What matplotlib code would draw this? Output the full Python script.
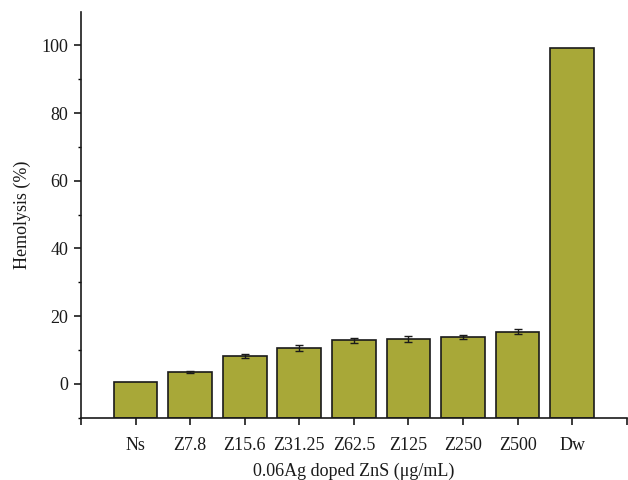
import numpy as np
import matplotlib.pyplot as plt

categories = ["Ns", "Z7.8", "Z15.6", "Z31.25", "Z62.5", "Z125", "Z250", "Z500", "Dw"]
hemolysis = [0.6, 3.4, 8.1, 10.5, 12.8, 13.2, 13.9, 15.4, 99.3]
errors = [0.0, 0.3, 0.6, 0.9, 0.8, 0.85, 0.6, 0.7, 0.0]

plt.rcParams["font.family"] = ["Liberation Serif", "DejaVu Serif"]

fig = plt.figure(figsize=(6.28, 4.8), dpi=100)
ax = fig.add_axes([0.129, 0.13, 0.869, 0.846])

x = np.arange(1, len(categories) + 1)
base = -10
heights = np.array(hemolysis) - base
ax.bar(x, heights, bottom=base, width=0.8, color="#a8a838",
       edgecolor="#1a1a1a", linewidth=1.2, zorder=2)

# only the treated samples carry error bars
err = np.array(errors)
has_err = err > 0
ax.errorbar(x[has_err], np.array(hemolysis)[has_err], yerr=err[has_err], fmt="none",
            ecolor="#1a1a1a", elinewidth=1.0, capsize=3, capthick=1.0, zorder=3)

ax.set_xlim(0, len(categories) + 1)
ax.set_ylim(-10, 110)
ax.set_xticks(np.arange(0, len(categories) + 2))
ax.set_xticklabels([""] + categories + [""])
ax.set_yticks([0, 20, 40, 60, 80, 100])
ax.set_yticks(np.arange(-10, 110, 20), minor=True)

for side in ("top", "right"):
    ax.spines[side].set_visible(False)
for side in ("left", "bottom"):
    ax.spines[side].set_linewidth(1.2)
    ax.spines[side].set_color("#1a1a1a")

ax.tick_params(axis="both", which="major", direction="out", length=5, width=1.2,
               labelsize=13, colors="#1a1a1a", pad=4)
ax.tick_params(axis="y", which="minor", direction="out", length=2.5, width=1.0)
ax.tick_params(axis="x", pad=9)

ax.set_ylabel("Hemolysis (%)", fontsize=13, color="#1a1a1a", labelpad=8)
ax.set_xlabel("0.06Ag doped ZnS (μg/mL)", fontsize=13, color="#1a1a1a", labelpad=6)

fig.savefig("out.png", dpi=100)
